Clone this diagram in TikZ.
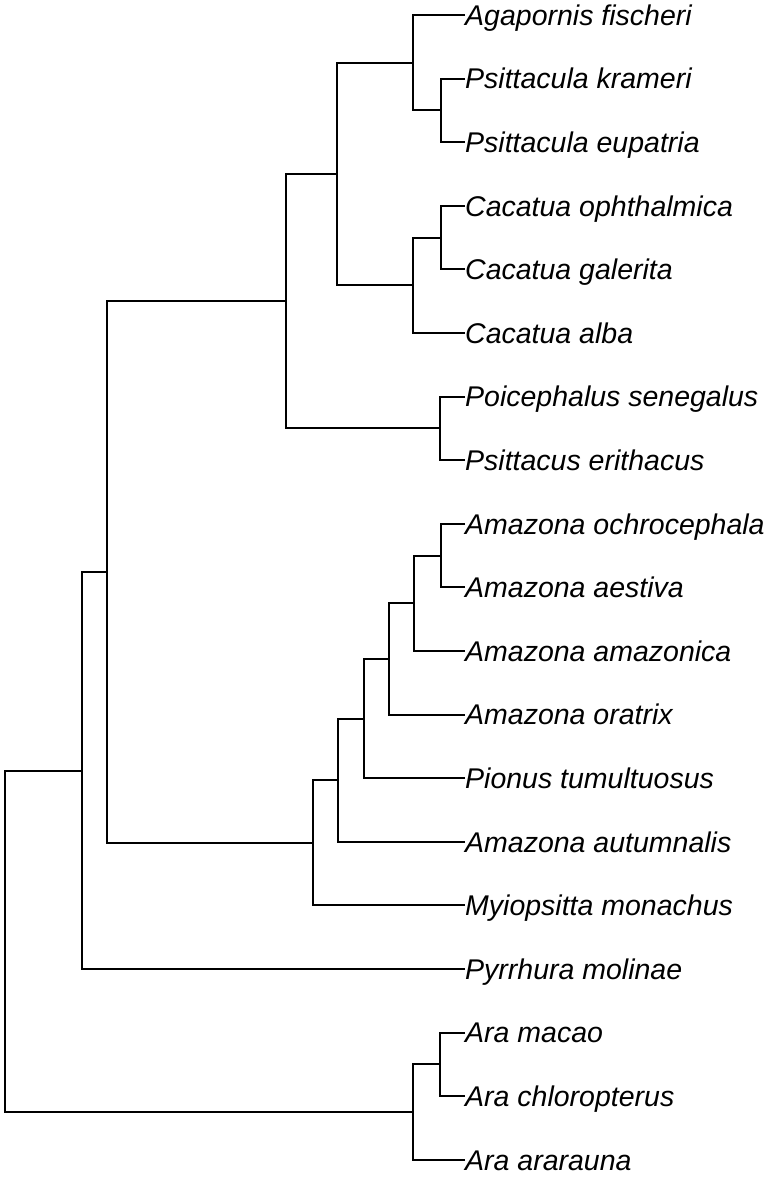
\documentclass[tikz,border=0pt]{standalone}
\usepackage{fontspec}
\setmainfont{Liberation Sans}
\begin{document}
\begin{tikzpicture}[x=1pt,y=-1pt,
  branch/.style={line width=2pt, draw=black},
  leaf/.style={anchor=base west, inner sep=0pt, yshift=-10.3pt,
    font=\fontsize{28.5}{34}\selectfont\itshape}]
\useasboundingbox (0,0) rectangle (768,1177);
% leaf tips
\coordinate (t1) at (465,15);
\coordinate (t2) at (465,78.6);
\coordinate (t3) at (465,142.2);
\coordinate (t4) at (465,205.8);
\coordinate (t5) at (465,269.4);
\coordinate (t6) at (465,333);
\coordinate (t7) at (465,396.6);
\coordinate (t8) at (465,460.2);
\coordinate (t9) at (465,523.8);
\coordinate (t10) at (465,587.4);
\coordinate (t11) at (465,651);
\coordinate (t12) at (465,714.6);
\coordinate (t13) at (465,778.2);
\coordinate (t14) at (465,841.8);
\coordinate (t15) at (465,905.4);
\coordinate (t16) at (465,969);
\coordinate (t17) at (465,1032.6);
\coordinate (t18) at (465,1096.2);
\coordinate (t19) at (465,1159.8);
% leaf labels
\node[leaf] (n1) at (t1) {Agapornis fischeri};
\node[leaf] (n2) at (t2) {Psittacula krameri};
\node[leaf] (n3) at (t3) {Psittacula eupatria};
\node[leaf] (n4) at (t4) {Cacatua ophthalmica};
\node[leaf] (n5) at (t5) {Cacatua galerita};
\node[leaf] (n6) at (t6) {Cacatua alba};
\node[leaf] (n7) at (t7) {Poicephalus senegalus};
\node[leaf] (n8) at (t8) {Psittacus erithacus};
\node[leaf] (n9) at (t9) {Amazona ochrocephala};
\node[leaf] (n10) at (t10) {Amazona aestiva};
\node[leaf] (n11) at (t11) {Amazona amazonica};
\node[leaf] (n12) at (t12) {Amazona oratrix};
\node[leaf] (n13) at (t13) {Pionus tumultuosus};
\node[leaf] (n14) at (t14) {Amazona autumnalis};
\node[leaf] (n15) at (t15) {Myiopsitta monachus};
\node[leaf] (n16) at (t16) {Pyrrhura molinae};
\node[leaf] (n17) at (t17) {Ara macao};
\node[leaf] (n18) at (t18) {Ara chloropterus};
\node[leaf] (n19) at (t19) {Ara ararauna};
% internal nodes
\coordinate (P1) at (441,110.4);
\coordinate (P2) at (413,62.7);
\coordinate (C1) at (441,237.6);
\coordinate (C2) at (413,285.3);
\coordinate (N1) at (337,174);
\coordinate (N2) at (440,428.4);
\coordinate (N3) at (286,301.2);
\coordinate (A1) at (441,555.6);
\coordinate (A2) at (413.5,603.3);
\coordinate (A3) at (389,658.95);
\coordinate (A4) at (364,718.6);
\coordinate (A5) at (338,780.2);
\coordinate (A6) at (313,842.8);
\coordinate (N4) at (107,572);
\coordinate (N5) at (82,770.5);
\coordinate (R1) at (440,1064.4);
\coordinate (R2) at (413,1112.1);
\coordinate (R0) at (5,941.3);
% branches
\draw[branch] (t2) -| (P1); \draw[branch] (t3) -| (P1);
\draw[branch] (t1) -| (P2); \draw[branch] (P1) -| (P2);
\draw[branch] (t4) -| (C1); \draw[branch] (t5) -| (C1);
\draw[branch] (C1) -| (C2); \draw[branch] (t6) -| (C2);
\draw[branch] (P2) -| (N1); \draw[branch] (C2) -| (N1);
\draw[branch] (t7) -| (N2); \draw[branch] (t8) -| (N2);
\draw[branch] (N1) -| (N3); \draw[branch] (N2) -| (N3);
\draw[branch] (t9) -| (A1); \draw[branch] (t10) -| (A1);
\draw[branch] (A1) -| (A2); \draw[branch] (t11) -| (A2);
\draw[branch] (A2) -| (A3); \draw[branch] (t12) -| (A3);
\draw[branch] (A3) -| (A4); \draw[branch] (t13) -| (A4);
\draw[branch] (A4) -| (A5); \draw[branch] (t14) -| (A5);
\draw[branch] (A5) -| (A6); \draw[branch] (t15) -| (A6);
\draw[branch] (N3) -| (N4); \draw[branch] (A6) -| (N4);
\draw[branch] (N4) -| (N5); \draw[branch] (t16) -| (N5);
\draw[branch] (t17) -| (R1); \draw[branch] (t18) -| (R1);
\draw[branch] (R1) -| (R2); \draw[branch] (t19) -| (R2);
\draw[branch] (N5) -| (R0); \draw[branch] (R2) -| (R0);
\end{tikzpicture}
\end{document}
